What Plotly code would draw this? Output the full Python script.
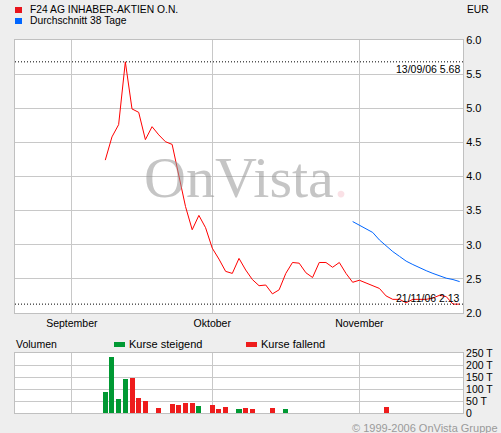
import plotly.graph_objects as go
import pandas as pd

# ---------------- data ----------------
price_dates = ["2006-09-08", "2006-09-11", "2006-09-12", "2006-09-13", "2006-09-14", "2006-09-15",
               "2006-09-18", "2006-09-19", "2006-09-20", "2006-09-21", "2006-09-22",
               "2006-09-25", "2006-09-26", "2006-09-27", "2006-09-28", "2006-09-29",
               "2006-10-02", "2006-10-03", "2006-10-04", "2006-10-05", "2006-10-06",
               "2006-10-09", "2006-10-10", "2006-10-11", "2006-10-12", "2006-10-13",
               "2006-10-16", "2006-10-17", "2006-10-18", "2006-10-19", "2006-10-20",
               "2006-10-23", "2006-10-24", "2006-10-25", "2006-10-26", "2006-10-27",
               "2006-10-30", "2006-10-31", "2006-11-01", "2006-11-02", "2006-11-03",
               "2006-11-06", "2006-11-07", "2006-11-08", "2006-11-09", "2006-11-10",
               "2006-11-13", "2006-11-14", "2006-11-15", "2006-11-16", "2006-11-17",
               "2006-11-20", "2006-11-21", "2006-11-22"]
price_values = [4.24, 4.58, 4.76, 5.68, 4.99, 4.94,
                4.54, 4.73, 4.61, 4.51, 4.47,
                4.00, 3.56, 3.22, 3.43, 3.25,
                2.95, 2.79, 2.61, 2.58, 2.80,
                2.63, 2.49, 2.40, 2.41, 2.28,
                2.34, 2.58, 2.74, 2.73, 2.59,
                2.52, 2.74, 2.74, 2.67, 2.74,
                2.58, 2.45, 2.48, 2.44, 2.40,
                2.36, 2.25, 2.20, 2.20, 2.15,
                2.20, 2.20, 2.20, 2.22, 2.26,
                2.24, 2.13, 2.13]

avg_dates = ["2006-10-31", "2006-11-01", "2006-11-02", "2006-11-03", "2006-11-06", "2006-11-07",
             "2006-11-08", "2006-11-09", "2006-11-10", "2006-11-13", "2006-11-14",
             "2006-11-15", "2006-11-16", "2006-11-17", "2006-11-20", "2006-11-21", "2006-11-22"]
avg_values = [3.34, 3.29, 3.24, 3.18, 3.07, 2.98,
              2.90, 2.83, 2.76, 2.71, 2.66,
              2.62, 2.58, 2.54, 2.51, 2.49, 2.46]

vol_up_dates = ["2006-09-08", "2006-09-11", "2006-09-12", "2006-09-13", "2006-09-28",
                "2006-10-06", "2006-10-17"]
vol_up_values = [87, 235, 58, 142, 30, 18, 18]
vol_down_dates = ["2006-09-14", "2006-09-15", "2006-09-18", "2006-09-20", "2006-09-22",
                  "2006-09-25", "2006-09-26", "2006-09-27", "2006-10-02", "2006-10-03",
                  "2006-10-04", "2006-10-09", "2006-10-10", "2006-10-13", "2006-11-07"]
vol_down_values = [146, 63, 50, 22, 38, 34, 42, 42, 34, 18, 26, 22, 18, 22, 26]

month_ticks = ["2006-09-01", "2006-10-02", "2006-11-01"]
month_labels = ["September", "Oktober", "November"]
price_ticks = [2.0, 2.5, 3.0, 3.5, 4.0, 4.5, 5.0, 5.5, 6.0]
vol_ticks = [0, 50, 100, 150, 200, 250]
vol_tick_labels = ["0", "50 T", "100 T", "150 T", "200 T", "250 T"]
x_range = ["2006-08-22", "2006-11-23"]

title_text = "F24 AG INHABER-AKTIEN O.N."
avg_text = "Durchschnitt 38 Tage"
currency = "EUR"

# ---------------- helpers ----------------
def noon(ds):
    return [pd.Timestamp(d) + pd.Timedelta(hours=12) for d in ds]

W, H = 501, 433
ML, MR, MT, MB = 15, 38, 40, 20
PW, PH = W - ML - MR, H - MT - MB

def px(x):
    return (x - ML) / PW

def py(y):
    return (H - MB - y) / PH

RED = "#FF0000"
BLUE = "#0066FF"
GREEN = "#009933"
BAR_RED = "#EE1C1C"
GRID = "#C8C8C8"
BG = "#EEEEEE"
FONT = "Liberation Sans"

fig = go.Figure()

fig.add_trace(go.Scatter(x=noon(price_dates), y=price_values, mode="lines",
                         line=dict(color=RED, width=1), xaxis="x", yaxis="y"))
fig.add_trace(go.Scatter(x=noon(avg_dates), y=avg_values, mode="lines",
                         line=dict(color=BLUE, width=1), xaxis="x", yaxis="y"))

bar_w = 0.75 * 86400000
fig.add_trace(go.Bar(x=noon(vol_up_dates), y=vol_up_values, marker=dict(color=GREEN, line=dict(width=0)),
                     width=bar_w, xaxis="x2", yaxis="y2"))
fig.add_trace(go.Bar(x=noon(vol_down_dates), y=vol_down_values, marker=dict(color=BAR_RED, line=dict(width=0)),
                     width=bar_w, xaxis="x2", yaxis="y2"))

# max / min
imax = max(range(len(price_values)), key=lambda i: price_values[i])
imin = min(range(len(price_values)), key=lambda i: price_values[i])
vmax, vmin = price_values[imax], price_values[imin]
dmax = pd.Timestamp(price_dates[imax]).strftime("%d/%m/%y")
dmin = pd.Timestamp(price_dates[imin]).strftime("%d/%m/%y")

dom_price = [py(313), 1]
dom_vol = [0, py(353)]

xcommon = dict(type="date", range=[pd.Timestamp(x_range[0]), pd.Timestamp(x_range[1])],
               rangebreaks=[dict(bounds=["sat", "mon"])],
               tickvals=noon(month_ticks), ticktext=month_labels, automargin=False,
               showgrid=True, gridcolor=GRID, gridwidth=1, zeroline=False,
               showline=True, linecolor="#C0C0C0", linewidth=1, mirror=True, ticks="",
               tickfont=dict(family=FONT, size=10.5, color="#000000"))

fig.update_layout(
    width=W, height=H,
    margin=dict(l=ML, r=MR, t=MT, b=MB, pad=0, autoexpand=False),
    paper_bgcolor=BG, plot_bgcolor="#FFFFFF",
    showlegend=False, bargap=0,
    font=dict(family=FONT, size=10.5, color="#000000"),
    xaxis=dict(**xcommon, anchor="y"),
    xaxis2=dict(**xcommon, anchor="y2", matches="x", showticklabels=False),
    yaxis=dict(domain=dom_price, range=[2, 6], side="right", tickvals=price_ticks,
               tickformat=".1f", showgrid=True, gridcolor=GRID, zeroline=False, automargin=False,
               showline=True, linecolor="#C0C0C0", mirror=True, ticks="",
               tickfont=dict(family=FONT, size=11, color="#000000")),
    yaxis2=dict(domain=dom_vol, range=[0, 250], side="right", tickvals=vol_ticks,
                ticktext=vol_tick_labels, showgrid=True, gridcolor=GRID, zeroline=False,
                automargin=False,
                showline=True, linecolor="#C0C0C0", mirror=True, ticks="",
                tickfont=dict(family=FONT, size=10.5, color="#000000")),
)

shapes = []
# dotted max/min lines
for v in (vmax, vmin):
    shapes.append(dict(type="line", xref="paper", yref="y", x0=0, x1=1, y0=v, y1=v,
                       line=dict(color="#000000", width=1, dash="1px,2px")))
# legend squares
def sq(x0, y0, x1, y1, c):
    shapes.append(dict(type="rect", xref="paper", yref="paper", x0=px(x0), x1=px(x1),
                       y0=py(y1), y1=py(y0), fillcolor=c, line=dict(width=0)))
sq(15, 7, 22, 13, "#E8141C")
sq(15, 18, 22, 24, BLUE)
sq(114, 342, 125, 347, GREEN)
sq(246, 342, 257, 347, BAR_RED)
fig.update_layout(shapes=shapes)

ann = []
def txt(x, y, s, size=10.5, color="#000000", xanchor="left", family=FONT):
    ann.append(dict(xref="paper", yref="paper", x=px(x), y=py(y), text=s, showarrow=False,
                    xanchor=xanchor, yanchor="middle", font=dict(family=family, size=size, color=color)))

txt(28, 10, title_text, size=10.3)
txt(28, 21, avg_text, size=10.3)
txt(491, 10, currency, size=10.3, xanchor="right")
txt(14, 344, "Volumen", size=10.5)
txt(127, 344, "Kurse steigend", size=11)
txt(259, 344, "Kurse fallend", size=11)
txt(500, 428, "\u00a9 1999-2006 OnVista Gruppe", size=11, color="#9A9A9A", xanchor="right")

# max/min labels
ann.append(dict(xref="paper", yref="y", x=px(462), y=vmax, text=f"{dmax} {vmax:.2f}",
                showarrow=False, xanchor="right", yanchor="top", yshift=1,
                font=dict(family=FONT, size=10.5, color="#000000")))
ann.append(dict(xref="paper", yref="y", x=px(462), y=vmin, text=f"{dmin} {vmin:.2f}",
                showarrow=False, xanchor="right", yanchor="bottom", yshift=-2,
                font=dict(family=FONT, size=10.5, color="#000000")))

# watermark
ann.append(dict(xref="paper", yref="paper", x=px(246), y=py(177),
                text="OnVista<span style='color:rgba(230,120,140,0.4)'>.</span>",
                showarrow=False, xanchor="center", yanchor="middle",
                font=dict(family="Liberation Serif", size=58, color="rgba(150,150,150,0.55)")))

fig.update_layout(annotations=ann)

fig.write_html("out.html", config={"displayModeBar": False},
               post_script="document.body.style.margin='0';document.body.style.background='#EEEEEE';")
